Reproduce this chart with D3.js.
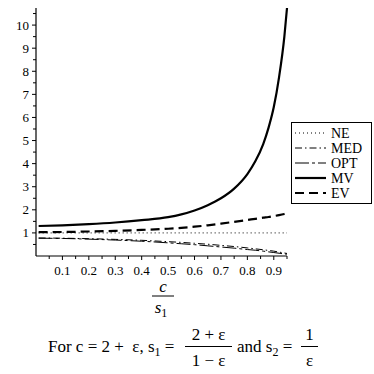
<!DOCTYPE html>
<html>
<head>
<meta charset="utf-8">
<script src="https://cdn.jsdelivr.net/npm/d3@7"></script>
<style>
  body { margin: 0; background: #fff; }
  svg text { font-family: "Liberation Serif", "Times New Roman", "DejaVu Serif", serif; fill: #000; }
</style>
</head>
<body>
<div id="chart"></div>
<script>
// x values are c/s1
const xs      = [0.01, 0.1, 0.2, 0.3, 0.4, 0.5, 0.55, 0.6, 0.65, 0.7, 0.75, 0.8, 0.83, 0.86, 0.88, 0.9, 0.92, 0.94, 0.95];
const neVals  = [1, 1, 1, 1, 1, 1, 1, 1, 1, 1, 1, 1, 1, 1, 1, 1, 1, 1, 1];
const medVals = [0.78, 0.77, 0.75, 0.72, 0.68, 0.62, 0.59, 0.55, 0.51, 0.46, 0.41, 0.35, 0.31, 0.27, 0.24, 0.21, 0.17, 0.13, 0.11];
const optVals = [0.77, 0.76, 0.73, 0.69, 0.64, 0.57, 0.53, 0.49, 0.44, 0.39, 0.34, 0.28, 0.25, 0.21, 0.18, 0.15, 0.12, 0.09, 0.08];
const mvVals  = [1.30, 1.33, 1.38, 1.45, 1.55, 1.68, 1.80, 1.97, 2.20, 2.50, 2.92, 3.55, 4.1, 4.85, 5.55, 6.45, 7.75, 9.5, 10.74];
const evVals  = [1.03, 1.04, 1.06, 1.09, 1.13, 1.18, 1.22, 1.27, 1.33, 1.40, 1.48, 1.56, 1.61, 1.66, 1.69, 1.73, 1.77, 1.82, 1.85];
const seriesNames = ['NE', 'MED', 'OPT', 'MV', 'EV'];
const xTicks = [0.1, 0.2, 0.3, 0.4, 0.5, 0.6, 0.7, 0.8, 0.9];
const yTicks = [1, 2, 3, 4, 5, 6, 7, 8, 9, 10];

const width = 374, height = 374;

const svg = d3.select('#chart').append('svg')
  .attr('width', width)
  .attr('height', height)
  .attr('font-family', '"Liberation Serif", "Times New Roman", serif');

const x = d3.scaleLinear().domain([0, 0.95]).range([36, 287]);
const y = d3.scaleLinear().domain([0, 10.74]).range([256, 8]);

// line styles
const styles = {
  NE:  { w: 1,   dash: '1,3' },
  MED: { w: 1,   dash: '7,3,1.5,3' },
  OPT: { w: 1,   dash: '14,3,3,3' },
  MV:  { w: 2.2, dash: null },
  EV:  { w: 2.2, dash: '9,5' }
};
const allVals = { NE: neVals, MED: medVals, OPT: optVals, MV: mvVals, EV: evVals };

const line = d3.line()
  .x(d => x(d[0]))
  .y(d => y(d[1]))
  .curve(d3.curveMonotoneX);

seriesNames.forEach(name => {
  svg.append('path')
    .datum(xs.map((v, i) => [v, allVals[name][i]]))
    .attr('fill', 'none')
    .attr('stroke', '#000')
    .attr('stroke-width', styles[name].w)
    .attr('stroke-dasharray', styles[name].dash)
    .attr('d', line);
});

// y axis
const yAxis = svg.append('g').attr('transform', `translate(${x(0)},0)`);
yAxis.append('line')
  .attr('y1', y.range()[0]).attr('y2', y.range()[1])
  .attr('stroke', '#000').attr('stroke-width', 1.2);
yAxis.selectAll('.minor')
  .data(d3.range(0.5, 10.6, 1))
  .enter().append('line')
  .attr('x1', -3).attr('x2', 0)
  .attr('y1', d => y(d)).attr('y2', d => y(d))
  .attr('stroke', '#000');
yAxis.selectAll('.major')
  .data(yTicks)
  .enter().append('line')
  .attr('x1', -4).attr('x2', 0)
  .attr('y1', d => y(d)).attr('y2', d => y(d))
  .attr('stroke', '#000');
yAxis.selectAll('text')
  .data(yTicks)
  .enter().append('text')
  .attr('x', -7)
  .attr('y', d => y(d))
  .attr('dy', '0.35em')
  .attr('text-anchor', 'end')
  .attr('font-size', 13)
  .text(d => d);

// x axis
const xAxis = svg.append('g').attr('transform', `translate(0,${y(0)})`);
xAxis.append('line')
  .attr('x1', x(0)).attr('x2', x(0.95))
  .attr('stroke', '#000').attr('stroke-width', 1.2);
xAxis.selectAll('.minor')
  .data(d3.range(0.05, 0.96, 0.1))
  .enter().append('line')
  .attr('y1', 0).attr('y2', 3)
  .attr('x1', d => x(d)).attr('x2', d => x(d))
  .attr('stroke', '#000');
xAxis.selectAll('.major')
  .data(xTicks)
  .enter().append('line')
  .attr('y1', 0).attr('y2', 4)
  .attr('x1', d => x(d)).attr('x2', d => x(d))
  .attr('stroke', '#000');
xAxis.selectAll('text')
  .data(xTicks)
  .enter().append('text')
  .attr('x', d => x(d))
  .attr('y', 19)
  .attr('text-anchor', 'middle')
  .attr('font-size', 13)
  .text(d => d3.format('.1f')(d));

// x axis title c / s1
const xt = svg.append('g').attr('transform', 'translate(163,0)');
xt.append('text').attr('x', 0).attr('y', 292).attr('text-anchor', 'middle')
  .attr('font-size', 17).attr('font-style', 'italic').text('c');
xt.append('line').attr('x1', -11).attr('x2', 11).attr('y1', 296).attr('y2', 296)
  .attr('stroke', '#000').attr('stroke-width', 1);
const s1 = xt.append('text').attr('x', -2).attr('y', 313).attr('text-anchor', 'middle')
  .attr('font-size', 17);
s1.append('tspan').attr('font-style', 'italic').text('s');
s1.append('tspan').attr('font-size', 12).attr('dy', 4).text('1');

// legend
const legend = svg.append('g');
legend.append('rect')
  .attr('x', 291.5).attr('y', 122.5).attr('width', 80).attr('height', 81)
  .attr('fill', '#fff').attr('stroke', '#000').attr('stroke-width', 1);
seriesNames.forEach((name, i) => {
  const ly = 133 + i * 15;
  legend.append('line')
    .attr('x1', 295).attr('x2', 326).attr('y1', ly).attr('y2', ly)
    .attr('stroke', '#000')
    .attr('stroke-width', styles[name].w)
    .attr('stroke-dasharray', styles[name].dash);
  legend.append('text')
    .attr('x', 331).attr('y', ly).attr('dy', '0.35em')
    .attr('font-size', 14).text(name);
});

// caption
const cap = svg.append('g').attr('font-size', 17);
const c1 = cap.append('text').attr('x', 48).attr('y', 352).attr('xml:space', 'preserve');
c1.append('tspan').text('For c = 2 +  ε, s');
c1.append('tspan').attr('font-size', 12).attr('dy', 4).text('1');
c1.append('tspan').attr('dy', -4).text(' =');
cap.append('text').attr('x', 208.5).attr('y', 340).attr('text-anchor', 'middle').text('2 + ε');
cap.append('line').attr('x1', 185).attr('x2', 232).attr('y1', 346.5).attr('y2', 346.5)
  .attr('stroke', '#000');
cap.append('text').attr('x', 208.5).attr('y', 366).attr('text-anchor', 'middle').text('1 − ε');
const c2 = cap.append('text').attr('x', 237).attr('y', 352);
c2.append('tspan').text('and s');
c2.append('tspan').attr('font-size', 12).attr('dy', 4).text('2');
c2.append('tspan').attr('dy', -4).text(' =');
cap.append('text').attr('x', 309.5).attr('y', 340).attr('text-anchor', 'middle').text('1');
cap.append('line').attr('x1', 301).attr('x2', 318).attr('y1', 346.5).attr('y2', 346.5)
  .attr('stroke', '#000');
cap.append('text').attr('x', 309.5).attr('y', 366).attr('text-anchor', 'middle').text('ε');
</script>
</body>
</html>
